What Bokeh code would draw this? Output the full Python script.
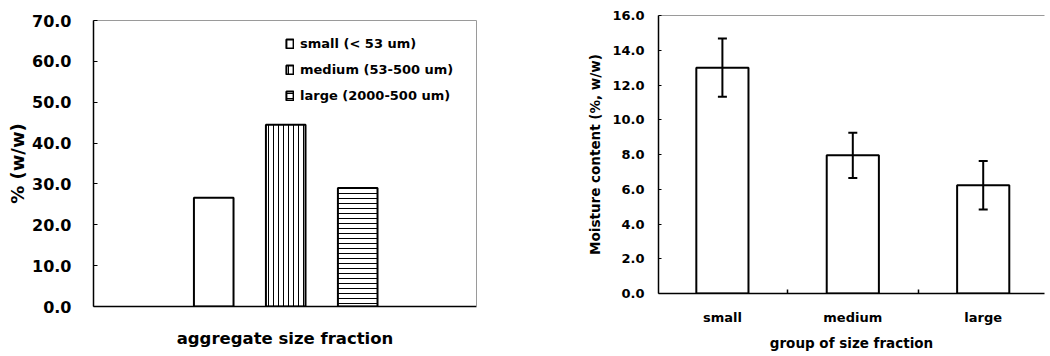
from bokeh.plotting import figure
from bokeh.layouts import row, column
from bokeh.models import (Range1d, FixedTicker, NumeralTickFormatter, LinearAxis,
                          Legend, LegendItem, ColumnDataSource, Whisker, TeeHead)
from bokeh.embed import file_html
from bokeh.resources import INLINE

FONT = "DejaVu Sans"

# ---- data: left panel (aggregate size distribution) ----
fraction_labels = ["small (< 53 um)", "medium (53-500 um)", "large (2000-500 um)"]
fraction_share = [26.6, 44.5, 29.0]          # % (w/w)
left_ticks = [0, 10, 20, 30, 40, 50, 60, 70]

# ---- data: right panel (moisture content) ----
group_labels = ["small", "medium", "large"]
moisture_mean = [13.0, 7.95, 6.23]           # %, w/w
moisture_err = [1.67, 1.30, 1.39]
right_ticks = [0, 2, 4, 6, 8, 10, 12, 14, 16]

hatches = [" ", "vertical_line", "horizontal_line"]


def style_axis(ax, tick_size, label_size):
    ax.major_label_text_font = FONT
    ax.major_label_text_font_style = "bold"
    ax.major_label_text_font_size = tick_size
    ax.major_label_text_color = "black"
    ax.axis_label_text_font = FONT
    ax.axis_label_text_font_style = "bold"
    ax.axis_label_text_font_size = label_size
    ax.axis_label_text_color = "black"
    ax.axis_line_color = "black"
    ax.axis_line_width = 1.5
    ax.minor_tick_line_color = None
    ax.minor_tick_out = 0
    ax.major_tick_out = 0


def border_axis(p, side):
    ax = LinearAxis(ticker=FixedTicker(ticks=[]), axis_line_color="#9a9a9a",
                    axis_line_width=1, major_label_text_font_size="0px",
                    major_label_standoff=0, major_tick_in=0, major_tick_out=0,
                    minor_tick_in=0, minor_tick_out=0,
                    minor_tick_line_color=None, major_tick_line_color=None)
    p.add_layout(ax, side)


# ================= left figure =================
p1 = figure(width=510, height=356, output_backend="svg", toolbar_location=None,
            x_range=Range1d(-1.67, 3.65), y_range=Range1d(0, 70),
            min_border_left=93, min_border_right=34, min_border_top=20,
            min_border_bottom=50)
p1.outline_line_color = None
p1.xgrid.visible = False
p1.ygrid.visible = False

items = []
for i, (lab, val) in enumerate(zip(fraction_labels, fraction_share)):
    src = ColumnDataSource(dict(x=[i], top=[val]))
    r = p1.vbar(x="x", top="top", width=0.55, source=src, fill_color="white",
                line_color="black", line_width=2, hatch_pattern=hatches[i],
                hatch_color="black", hatch_scale=5, hatch_weight=1)
    items.append(LegendItem(label=lab, renderers=[r]))

leg = Legend(items=items, location=(192, 201), padding=0, margin=0,
             border_line_color=None, background_fill_alpha=0,
             label_text_font=FONT, label_text_font_style="bold",
             label_text_color="black",
             label_text_font_size="13px", glyph_width=9, glyph_height=11,
             label_standoff=6, spacing=6, label_height=20)
p1.add_layout(leg)

xa = p1.xaxis[0]
style_axis(xa, "0px", "16.5px")
xa.ticker = FixedTicker(ticks=[])
xa.major_tick_line_color = None
xa.major_label_standoff = 0
xa.axis_label = "aggregate size fraction"
xa.axis_label_standoff = 22

ya = p1.yaxis[0]
style_axis(ya, "16px", "18px")
ya.ticker = FixedTicker(ticks=left_ticks)
ya.formatter = NumeralTickFormatter(format="0.0")
ya.major_tick_in = 4
ya.major_tick_line_color = "black"
ya.major_label_standoff = 22
ya.axis_label = "% (w/w)"
ya.axis_label_standoff = 1

border_axis(p1, "above")
border_axis(p1, "right")

# ================= right figure =================
p2 = figure(width=540, height=356, output_backend="svg", toolbar_location=None,
            x_range=Range1d(-0.49, 2.47), y_range=Range1d(0, 16),
            min_border_left=148, min_border_right=6, min_border_top=15,
            min_border_bottom=63)
p2.outline_line_color = None
p2.xgrid.visible = False
p2.ygrid.visible = False

xs = list(range(len(group_labels)))
src2 = ColumnDataSource(dict(
    x=xs, top=moisture_mean,
    upper=[m + e for m, e in zip(moisture_mean, moisture_err)],
    lower=[m - e for m, e in zip(moisture_mean, moisture_err)]))
p2.vbar(x="x", top="top", width=0.4, source=src2, fill_color="white",
        line_color="black", line_width=2)
wh = Whisker(base="x", upper="upper", lower="lower", source=src2,
             line_color="black", line_width=2, level="overlay",
             upper_head=TeeHead(size=9, line_color="black", line_width=2),
             lower_head=TeeHead(size=9, line_color="black", line_width=2))
p2.add_layout(wh)

xb = p2.xaxis[0]
style_axis(xb, "13px", "13.5px")
xb.ticker = FixedTicker(ticks=xs, minor_ticks=[x + 0.5 for x in xs[:-1]])
xb.major_label_overrides = {x: g for x, g in zip(xs, group_labels)}
xb.major_tick_line_color = None
xb.major_tick_in = 0
xb.minor_tick_line_color = "black"
xb.minor_tick_line_width = 1.5
xb.minor_tick_in = 4
xb.major_label_standoff = 16
xb.axis_label = "group of size fraction"
xb.axis_label_standoff = 7

yb = p2.yaxis[0]
style_axis(yb, "13px", "13.5px")
yb.ticker = FixedTicker(ticks=right_ticks)
yb.formatter = NumeralTickFormatter(format="0.0")
yb.major_tick_in = 3
yb.major_tick_line_color = "black"
yb.major_label_standoff = 14
yb.axis_label = "Moisture content (%, w/w)"
yb.axis_label_standoff = 6

border_axis(p2, "above")

layout = row(column(p1), column(p2))
open("out.html", "w").write(file_html(layout, INLINE))
